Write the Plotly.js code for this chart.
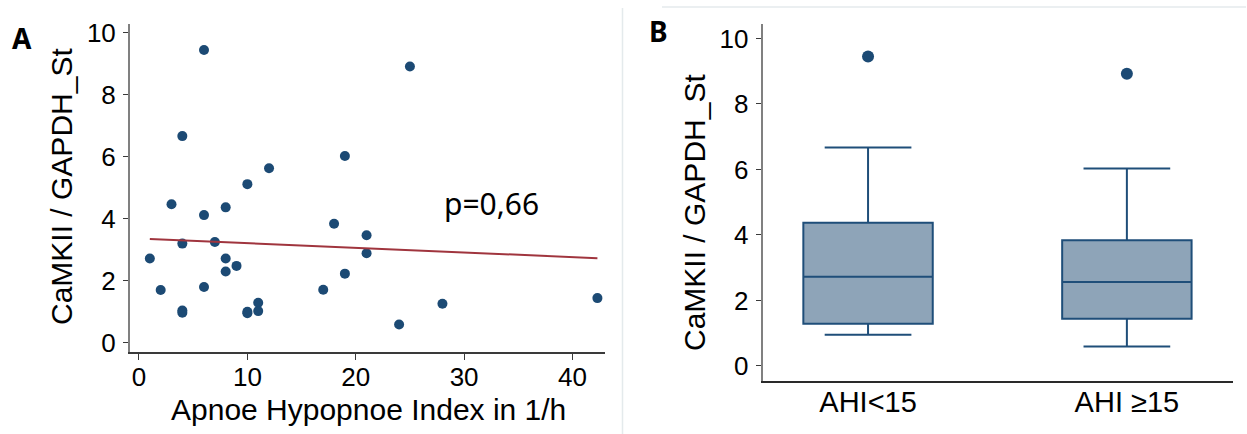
<!DOCTYPE html>
<html>
<head>
<meta charset="utf-8">
<script src="https://cdn.plot.ly/plotly-3.0.1.min.js"></script>
<style>html,body{margin:0;padding:0;background:#fff;}#chart{width:1247px;height:434px;}</style>
</head>
<body>
<div id="chart"></div>
<script>
// Panel A: Apnoe Hypopnoe Index (1/h) vs CaMKII / GAPDH_St
const ahi = [6, 4, 12, 10, 3, 8, 6, 4, 7, 1, 8, 9, 8, 2, 6, 4, 4, 10, 10, 11, 11,
             25, 19, 18, 21, 21, 19, 17, 28, 24, 42.3];
const camkii = [9.45, 6.67, 5.63, 5.12, 4.47, 4.37, 4.12, 3.20, 3.25, 2.72, 2.72, 2.48, 2.30, 1.70, 1.80, 1.04, 0.97, 1.00, 0.95, 1.29, 1.02,
                8.92, 6.03, 3.84, 3.47, 2.89, 2.23, 1.71, 1.26, 0.59, 1.44];
const pLabel = "p=0,66";
// Panel B groups
const groupNames = ["AHI<15", "AHI \u226515"];
const groupThreshold = 15;
const xTicksA = [0, 10, 20, 30, 40];
const yTicks = [0, 2, 4, 6, 8, 10];

// least squares fit
const n = ahi.length;
const mx = ahi.reduce((a, b) => a + b, 0) / n;
const my = camkii.reduce((a, b) => a + b, 0) / n;
let sxy = 0, sxx = 0;
for (let i = 0; i < n; i++) { sxy += (ahi[i] - mx) * (camkii[i] - my); sxx += (ahi[i] - mx) ** 2; }
const slope = sxy / sxx, intercept = my - slope * mx;
const xmin = Math.min(...ahi), xmax = Math.max(...ahi);
const fitX = [xmin, xmax];
const fitY = fitX.map(x => intercept + slope * x);

// box groups
const boxX = [], boxY = [];
for (let i = 0; i < n; i++) {
  boxX.push(ahi[i] < groupThreshold ? groupNames[0] : groupNames[1]);
  boxY.push(camkii[i]);
}

const W = 1247, H = 434;
const px = v => v / W, py = v => 1 - v / H;
const markColor = "#1c4a74";
const tickFont = {family: "Liberation Sans, Arial, sans-serif", size: 26, color: "#000"};
const titleFont = {family: "Liberation Sans, Arial, sans-serif", size: 30, color: "#000"};

const traces = [
  {type: "scatter", mode: "markers", x: ahi, y: camkii, xaxis: "x", yaxis: "y",
   marker: {color: markColor, size: 10}, hoverinfo: "skip", showlegend: false},
  {type: "scatter", mode: "lines", x: fitX, y: fitY, xaxis: "x", yaxis: "y",
   line: {color: "#a0353e", width: 2}, hoverinfo: "skip", showlegend: false},
  {type: "box", x: boxX, y: boxY, xaxis: "x2", yaxis: "y2",
   boxpoints: "outliers", quartilemethod: "inclusive", width: 0.5, whiskerwidth: 0.67,
   fillcolor: "#8ea4b8", line: {color: "#1f4e79", width: 2},
   marker: {color: markColor, size: 12, line: {width: 0}}, hoverinfo: "skip", showlegend: false}
];

const layout = {
  width: W, height: H, margin: {l: 0, r: 0, t: 0, b: 0},
  paper_bgcolor: "#fff", plot_bgcolor: "rgba(0,0,0,0)", showlegend: false,
  xaxis: {domain: [px(130), px(605)], range: [-0.83, 43.0], tickvals: xTicksA,
    showgrid: false, zeroline: false, showline: true, linecolor: "#3a3a3a", linewidth: 1.5,
    ticks: "outside", ticklen: 6, tickcolor: "#3a3a3a", tickfont: tickFont, ticklabelstandoff: -5, anchor: "y"},
  yaxis: {domain: [py(352), py(24)], range: [-0.3, 10.29], tickvals: yTicks,
    showgrid: false, zeroline: false, showline: true, linecolor: "#808080", linewidth: 2,
    ticks: "outside", ticklen: 5, tickcolor: "#3a3a3a", tickfont: tickFont, ticklabelstandoff: 2, anchor: "x"},
  xaxis2: {domain: [px(762.7), px(1233)], range: [-0.407, 1.41], type: "category",
    categoryarray: groupNames, showgrid: false, zeroline: false, showline: true,
    linecolor: "#2a2a2a", linewidth: 1.5, ticks: "", tickfont: {...tickFont, size: 29}, ticklabelstandoff: -5, anchor: "y2"},
  yaxis2: {domain: [py(381), py(24)], range: [-0.46, 10.44], tickvals: yTicks,
    showgrid: false, zeroline: false, showline: true, linecolor: "#808080", linewidth: 2,
    ticks: "outside", ticklen: 5, tickcolor: "#3a3a3a", tickfont: tickFont, ticklabelstandoff: 2, anchor: "x2"},
  annotations: [
    {text: "Apnoe Hypopnoe Index in 1/h", xref: "paper", yref: "paper", x: px(368), y: py(409),
     xanchor: "center", yanchor: "middle", showarrow: false, font: titleFont},
    {text: "CaMKII / GAPDH_St", xref: "paper", yref: "paper", x: px(62), y: py(187),
     xanchor: "center", yanchor: "middle", textangle: -90, showarrow: false, font: titleFont},
    {text: "CaMKII / GAPDH_St", xref: "paper", yref: "paper", x: px(694), y: py(213),
     xanchor: "center", yanchor: "middle", textangle: -90, showarrow: false, font: titleFont},
    {text: pLabel, xref: "paper", yref: "paper", x: px(491), y: py(204),
     xanchor: "center", yanchor: "middle", showarrow: false,
     font: {family: "Noto Sans, sans-serif", size: 30, color: "#000"}},
    {text: "<b>A</b>", xref: "paper", yref: "paper", x: px(22), y: py(38),
     xanchor: "center", yanchor: "middle", showarrow: false,
     font: {family: "Noto Sans, sans-serif", size: 28, color: "#000"}},
    {text: "<b>B</b>", xref: "paper", yref: "paper", x: px(659), y: py(31),
     xanchor: "center", yanchor: "middle", showarrow: false,
     font: {family: "Noto Sans, sans-serif", size: 28, color: "#000"}}
  ],
  shapes: [
    {type: "line", xref: "paper", yref: "paper", x0: px(622.5), x1: px(622.5), y0: 0, y1: py(8),
     line: {color: "#e4eaec", width: 1.5}},
    {type: "line", xref: "paper", yref: "paper", x0: px(662), x1: px(1246), y0: py(7), y1: py(7),
     line: {color: "#e4eaec", width: 1.5}}
  ]
};

Plotly.newPlot("chart", traces, layout, {staticPlot: true, displayModeBar: false});
</script>
</body>
</html>
